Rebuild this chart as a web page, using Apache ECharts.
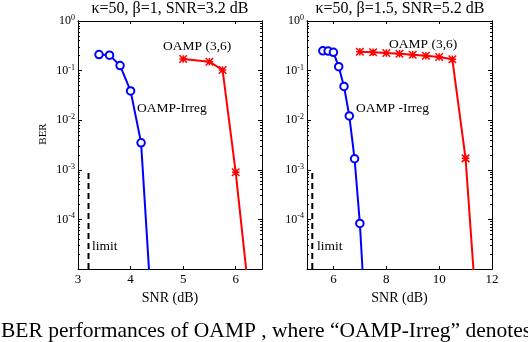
<!DOCTYPE html>
<html>
<head>
<meta charset="utf-8">
<script src="https://cdn.jsdelivr.net/npm/echarts@6/dist/echarts.min.js"></script>
<style>
  html, body { margin: 0; padding: 0; background: #fff; }
  #chart { width: 528px; height: 342px; }
</style>
</head>
<body>
<div id="chart"></div>
<script>
// left panel: kappa=50, beta=1
const leftIrregSnr = [3.4, 3.6, 3.8, 4.0, 4.2, 4.4]
const leftIrregBer = [0.21, 0.205, 0.126, 0.039, 0.0035, 1.4e-6]
const leftOampSnr = [5.0, 5.5, 5.75, 6.0, 6.3]
const leftOampBer = [0.171, 0.151, 0.103, 8.9e-4, 1e-6]
// right panel: kappa=50, beta=1.5
const rightIrregSnr = [5.6, 5.8, 6.0, 6.2, 6.4, 6.6, 6.8, 7.0, 7.2]
const rightIrregBer = [0.25, 0.248, 0.234, 0.12, 0.048, 0.0122, 0.00167, 8.3e-5, 1.2e-6]
const rightOampSnr = [7.0, 7.5, 8.0, 8.5, 9.0, 9.5, 10.0, 10.5, 11.0, 11.5]
const rightOampBer = [0.24, 0.234, 0.226, 0.219, 0.209, 0.2, 0.188, 0.169, 0.0017, 3e-7]
// SNR limits (dashed lines)
const limitSnr = [3.2, 5.2]
const limitBer = [1e-5, 9e-4]

const titles = ['κ=50, β=1, SNR=3.2 dB', 'κ=50, β=1.5, SNR=5.2 dB']
const xTicksLeft = [3, 4, 5, 6]
const xTicksRight = [6, 8, 10, 12]
const yMajor = [1e-5, 1e-4, 1e-3, 1e-2, 1e-1, 1]

const yMinor = []
for (let e = -5; e < 0; e++) {
  for (let k = 2; k <= 9; k++) yMinor.push(k * Math.pow(10, e))
}

const font = 'Liberation Serif'
const chart = echarts.init(document.getElementById('chart'))

function pairs(xs, ys) {
  return xs.map((x, i) => [x, ys[i]])
}

function xAxes(grid, min, max, ticks) {
  const base = {
    type: 'value', gridIndex: grid, min: min, max: max,
    splitLine: { show: false },
    axisLine: { show: true, onZero: false, lineStyle: { color: '#000', width: 1 } }
  }
  return [
    Object.assign({}, base, {
      position: 'bottom',
      name: 'SNR (dB)', nameLocation: 'middle', nameGap: 17,
      nameTextStyle: { fontFamily: font, fontSize: 14, color: '#000' },
      axisTick: { show: true, inside: true, length: 3, customValues: ticks, lineStyle: { color: '#000' } },
      axisLabel: { show: true, customValues: ticks, margin: 4, fontFamily: font, fontSize: 13, color: '#000' }
    }),
    Object.assign({}, base, {
      position: 'top',
      axisTick: { show: true, inside: true, length: 3, customValues: ticks, lineStyle: { color: '#000' } },
      axisLabel: { show: false }
    })
  ]
}

function yAxes(grid) {
  const base = {
    type: 'log', logBase: 10, gridIndex: grid, min: 1e-5, max: 1,
    splitLine: { show: false }, minorTick: { show: false },
    axisLine: { show: true, onZero: false, lineStyle: { color: '#000', width: 1 } }
  }
  const tick = (vals, len) => ({ show: true, inside: true, length: len, customValues: vals, lineStyle: { color: '#000' } })
  return [
    Object.assign({}, base, {
      position: 'left',
      axisTick: tick(yMajor, 4),
      axisLabel: {
        show: true, margin: 3, customValues: yMajor.slice(1),
        formatter: function(v) {
          const e = Math.round(Math.log10(v))
          return '{b|10}{s|' + e + '}'
        },
        rich: {
          b: { fontFamily: font, fontSize: 12, color: '#000' },
          s: { fontFamily: font, fontSize: 8, color: '#000', verticalAlign: 'top', padding: [0, 0, 6, 0] }
        }
      }
    }),
    Object.assign({}, base, { position: 'right', axisTick: tick(yMajor, 4), axisLabel: { show: false } }),
    Object.assign({}, base, { position: 'left', axisTick: tick(yMinor, 2), axisLabel: { show: false } }),
    Object.assign({}, base, { position: 'right', axisTick: tick(yMinor, 2), axisLabel: { show: false } })
  ]
}

const asterisk = 'path://M0 0L10 10M10 0L0 10M0 5L10 5M5 0L5 10'

function curve(name, xi, yi, data, color, marker) {
  const s = {
    name: name, type: 'line', xAxisIndex: xi, yAxisIndex: yi, data: data,
    clip: true, animation: false,
    lineStyle: { color: color, width: 2 },
    symbolSize: 7.5
  }
  if (marker === 'circle') {
    s.symbol = 'emptyCircle'
    s.itemStyle = { color: color, borderWidth: 1.8 }
  } else {
    s.symbol = asterisk
    s.itemStyle = { color: 'none', borderColor: color, borderWidth: 1.5 }
  }
  return s
}

function limitLine(xi, yi, snr) {
  return {
    type: 'line', xAxisIndex: xi, yAxisIndex: yi, symbol: 'none', animation: false,
    data: [[snr, limitBer[0]], [snr, limitBer[1]]],
    lineStyle: { color: '#000', width: 2, type: [6, 4] }
  }
}

function txt(x, y, text, size, align) {
  return {
    type: 'text', x: x, y: y,
    style: { text: text, fontFamily: font, fontSize: size, fill: '#000', align: align || 'left', verticalAlign: 'middle' }
  }
}

chart.setOption({
  backgroundColor: '#fff',
  animation: false,
  grid: [
    { left: 78, top: 21, width: 184, height: 248 },
    { left: 307, top: 21, width: 185, height: 248 }
  ],
  xAxis: [].concat(xAxes(0, 3, 6.5, xTicksLeft), xAxes(1, 5, 12, xTicksRight)),
  yAxis: [].concat(yAxes(0), yAxes(1)),
  series: [
    curve('OAMP-Irreg', 0, 0, pairs(leftIrregSnr, leftIrregBer), '#0000ff', 'circle'),
    curve('OAMP (3,6)', 0, 0, pairs(leftOampSnr, leftOampBer), '#ff0000', 'star'),
    limitLine(0, 0, limitSnr[0]),
    curve('OAMP-Irreg', 2, 4, pairs(rightIrregSnr, rightIrregBer), '#0000ff', 'circle'),
    curve('OAMP (3,6)', 2, 4, pairs(rightOampSnr, rightOampBer), '#ff0000', 'star'),
    limitLine(2, 4, limitSnr[1])
  ],
  graphic: [
    txt(170, 9, titles[0], 16, 'center'),
    txt(400, 9, titles[1], 16, 'center'),
    {
      type: 'text', x: 43, y: 134, rotation: Math.PI / 2,
      style: { text: 'BER', fontFamily: font, fontSize: 11, fill: '#000', align: 'center', verticalAlign: 'middle' }
    },
    txt(163, 46, 'OAMP (3,6)', 13.5),
    txt(137, 108, 'OAMP-Irreg', 13.5),
    txt(92, 246, 'limit', 13.5),
    txt(389, 44, 'OAMP (3,6)', 13.5),
    txt(356, 108, 'OAMP -Irreg', 13.5),
    txt(317, 246, 'limit', 13.5),
    {
      type: 'text', x: 1, y: 331,
      style: { text: 'BER performances of OAMP , where \u201cOAMP-Irreg\u201d denotes', fontFamily: font, fontSize: 21.5, fill: '#000', verticalAlign: 'middle' }
    }
  ]
})
</script>
</body>
</html>
